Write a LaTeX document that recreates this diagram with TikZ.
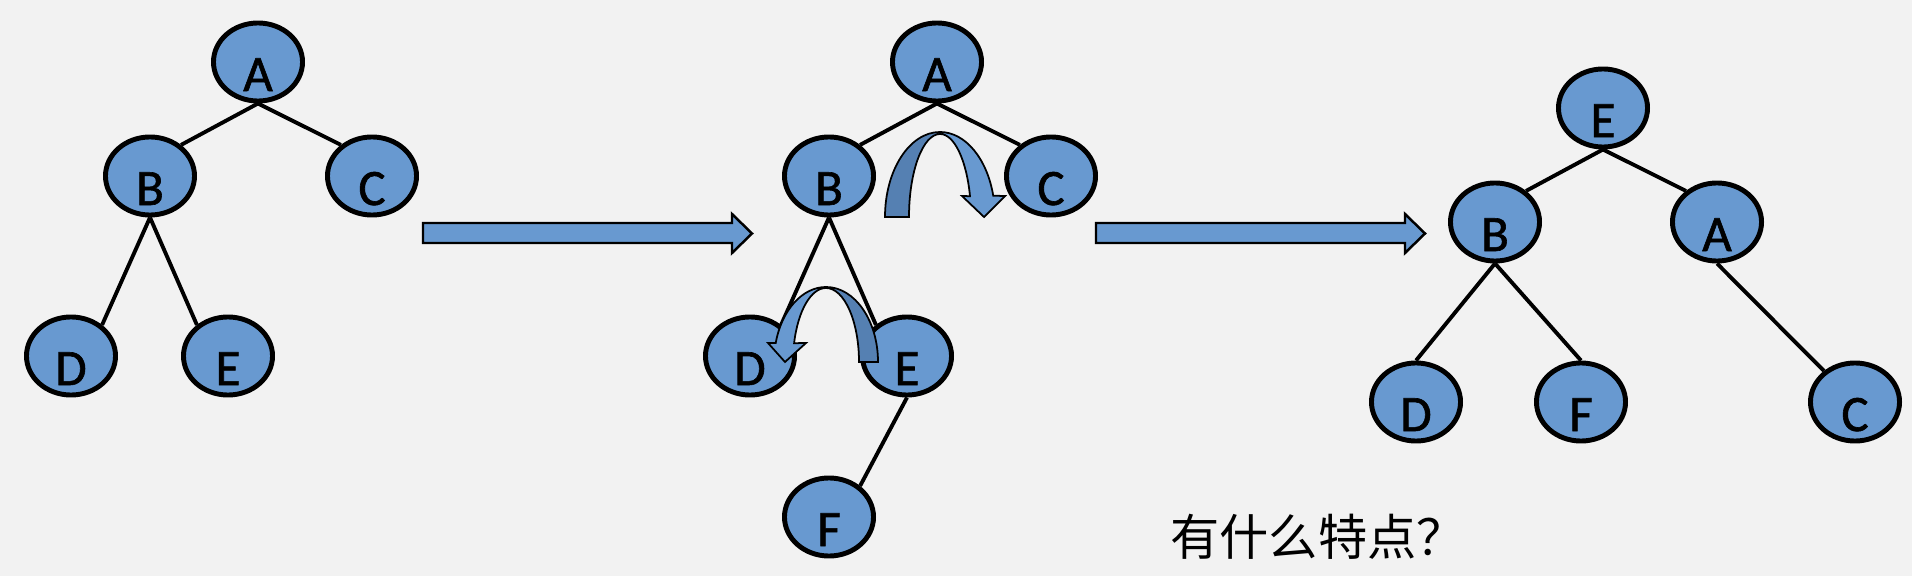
\documentclass[tikz,border=0pt]{standalone}
\usepackage{fontspec}
\setmainfont{Carlito}
\newfontfamily\nodefont[FakeBold=1.2]{Carlito}
\newfontfamily\cjk{Noto Sans CJK SC}
\usetikzlibrary{shapes.geometric}
\definecolor{nodeblue}{RGB}{104,153,208}
\definecolor{backblue}{RGB}{85,128,178}
\definecolor{paper}{RGB}{242,242,242}
\newcommand{\nd}[1]{\raisebox{-2.9mm}[0pt][0pt]{#1}}

\begin{document}
\begin{tikzpicture}[x=0.01cm,y=-0.01cm,
	tnode/.style={ellipse,draw,line width=1.4pt,fill=nodeblue,minimum width=0.89cm,minimum height=0.78cm,inner sep=0pt,font=\nodefont\fontsize{14.5}{15}\selectfont},
	link/.style={line width=1.1pt},
	blockarrow/.style={draw,line width=0.7pt,fill=nodeblue,line join=miter},
	curlfront/.style={draw,line width=0.5pt,fill=nodeblue},
	curlback/.style={draw,line width=0.5pt,fill=backblue}]
			\fill[paper] (0,0) rectangle (1912,576);
			\useasboundingbox (0,0) rectangle (1912,576);
			% tree 1
			\node[tnode] (a1) at (258,62) {\nd{A}};
			\node[tnode] (b1) at (150,176) {\nd{B}};
			\node[tnode] (c1) at (372,176) {\nd{C}};
			\node[tnode] (d1) at (71,356) {\nd{D}};
			\node[tnode] (e1) at (228,356) {\nd{E}};
			\draw[link] (a1.south) -- (b1.45);
			\draw[link] (a1.south) -- (c1.135);
			\draw[link] (b1.south) -- (d1.45);
			\draw[link] (b1.south) -- (e1.135);
			% tree 2
			\node[tnode] (a2) at (937,62) {\nd{A}};
			\node[tnode] (b2) at (829,176) {\nd{B}};
			\node[tnode] (c2) at (1051,176) {\nd{C}};
			\node[tnode] (d2) at (750,356) {\nd{D}};
			\node[tnode] (e2) at (907,356) {\nd{E}};
			\node[tnode] (f2) at (829,517) {\nd{F}};
			\draw[link] (a2.south) -- (b2.45);
			\draw[link] (a2.south) -- (c2.135);
			\draw[link] (b2.south) -- (d2.45);
			\draw[link] (b2.south) -- (e2.135);
			\draw[link] (e2.south) -- (f2.45);
			% tree 3
			\node[tnode] (e3) at (1603,108) {\nd{E}};
			\node[tnode] (b3) at (1495,222) {\nd{B}};
			\node[tnode] (a3) at (1717,222) {\nd{A}};
			\node[tnode] (d3) at (1416,402) {\nd{D}};
			\node[tnode] (f3) at (1581,402) {\nd{F}};
			\node[tnode] (c3) at (1855,402) {\nd{C}};
			\draw[link] (e3.south) -- (b3.45);
			\draw[link] (e3.south) -- (a3.135);
			\draw[link] (b3.south) -- (d3.north);
			\draw[link] (b3.south) -- (f3.north);
			\draw[link] (a3.south) -- (c3.135);
			% block arrows
			\draw[blockarrow] (423,223) -- (732,223) -- (732,214) -- (752,233.5) -- (732,253) -- (732,243) -- (423,243) -- cycle;
			\draw[blockarrow] (1096,223) -- (1405,223) -- (1405,214) -- (1425,233.5) -- (1405,253) -- (1405,243) -- (1096,243) -- cycle;
			% rotation A over C
			\draw[curlback] (885,217) arc[start angle=180,end angle=270,x radius=55,y radius=85] -- (940,134) arc[start angle=270,end angle=180,x radius=31,y radius=83] -- cycle;
			\draw[curlfront] (940,132) arc[start angle=270,end angle=345.5,x radius=55,y radius=85] -- (1005,196) -- (984,217) -- (962,196) -- (970,196.2) arc[start angle=345.5,end angle=270,x radius=31,y radius=83] -- cycle;
			% rotation E over D
			\draw[curlback] (878,362) arc[start angle=0,end angle=-90,x radius=52,y radius=75] -- (826,288) arc[start angle=-90,end angle=0,x radius=33,y radius=74] -- cycle;
			\draw[curlfront] (826,287) arc[start angle=270,end angle=194.7,x radius=52,y radius=75] -- (768,343) -- (785,362) -- (806,343) -- (794.1,343.2) arc[start angle=194.7,end angle=270,x radius=33,y radius=74] -- cycle;
			\node[font=\cjk\fontsize{14}{15}\selectfont] (q) at (1318,537) {有什么特点？};
\end{tikzpicture}
\end{document}
